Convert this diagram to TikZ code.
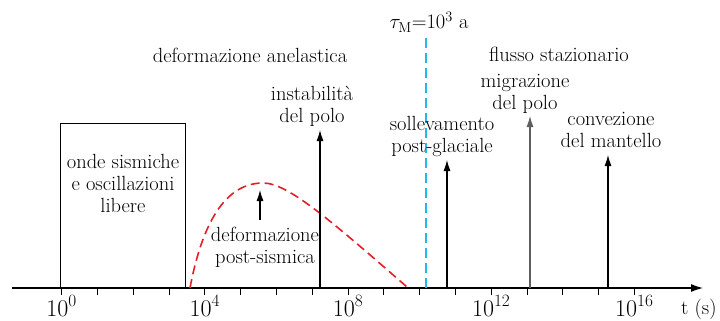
\documentclass[tikz,border=0pt]{standalone}
\usetikzlibrary{arrows.meta}
\definecolor{rcurve}{RGB}{228,30,40}
\definecolor{bline}{RGB}{35,185,235}
\definecolor{garrow}{RGB}{95,95,95}
\tikzset{
  lbl/.style={font=\fontsize{20.5}{22}\selectfont, align=center, inner sep=0pt},
  ticklbl/.style={font=\fontsize{24}{26}\selectfont, inner sep=0pt, anchor=base},
  upar/.style={line width=1.1pt, -{Latex[length=11pt,width=7pt]}},
  axisline/.style={line width=1.1pt, -{Latex[length=12pt,width=8pt]}},
  tickmark/.style={line width=1pt},
}
\begin{document}
\begin{tikzpicture}[x=1pt,y=-1pt]
\useasboundingbox (0,0) rectangle (720,321);
% axis
\coordinate (a0) at (12,288);
\coordinate (aend) at (703,288);
\draw[axisline] (a0) -- (aend);
\foreach \n in {0,...,16}{
  \draw[tickmark] (61.6+35.8*\n,288) -- (61.6+35.8*\n,295);
}
\foreach \n in {0,4,8,12,16}{
  \node[ticklbl] (tl\n) at (61.6+35.8*\n,316) {10$^{\n}$};
}
\node[lbl, anchor=base west] (tunit) at (681,314) {t (s)};
% box
\node[draw, line width=1.1pt, minimum width=125pt, minimum height=164pt, inner sep=0pt, anchor=south west] (box) at (60,288) {};
\node[lbl, anchor=base] (boxt) at (123,212) {onde sismiche\\e oscillazioni\\libere};
% headings
\node[lbl, anchor=base] (anel) at (250,63) {deformazione anelastica};
\node[lbl, anchor=base] (flusso) at (559,62) {flusso stazionario};
% red curve
\draw[rcurve, line width=1.6pt, dash pattern=on 9pt off 5pt]
  (190,288) .. controls (200,235) and (220,183) .. (263,183)
  .. controls (288,183) and (330,220) .. (407,287);
\coordinate (pb) at (260,220);
\coordinate (pt) at (260,190);
\draw[upar] (pb) -- (pt);
\node[lbl, anchor=base] (post) at (265,263) {deformazione\\post-sismica};
% instabilita
\coordinate (ib) at (320,288);
\coordinate (it) at (320,130);
\draw[upar] (ib) -- (it);
\node[lbl, anchor=base] (inst) at (312,122) {instabilità\\del polo};
% blue line
\coordinate (bb) at (426,288);
\coordinate (bt) at (426,38);
\draw[bline, line width=2.4pt, dash pattern=on 10pt off 5pt] (bb) -- (bt);
\node[lbl, anchor=base] (tau) at (429,29) {$\tau_{\mathrm{M}}$=10$^3$ a};
% sollevamento
\coordinate (sb) at (447,288);
\coordinate (st) at (447,160);
\draw[upar] (sb) -- (st);
\node[lbl, anchor=base] (soll) at (442,152) {sollevamento\\post-glaciale};
% migrazione
\coordinate (mb) at (530,288);
\coordinate (mt) at (530,116);
\draw[upar, garrow] (mb) -- (mt);
\node[lbl, anchor=base] (migr) at (525,110) {migrazione\\del polo};
% convezione
\coordinate (cb) at (608,288);
\coordinate (ct) at (608,155);
\draw[upar] (cb) -- (ct);
\node[lbl, anchor=base] (conv) at (611,147) {convezione\\del mantello};
\end{tikzpicture}
\end{document}
